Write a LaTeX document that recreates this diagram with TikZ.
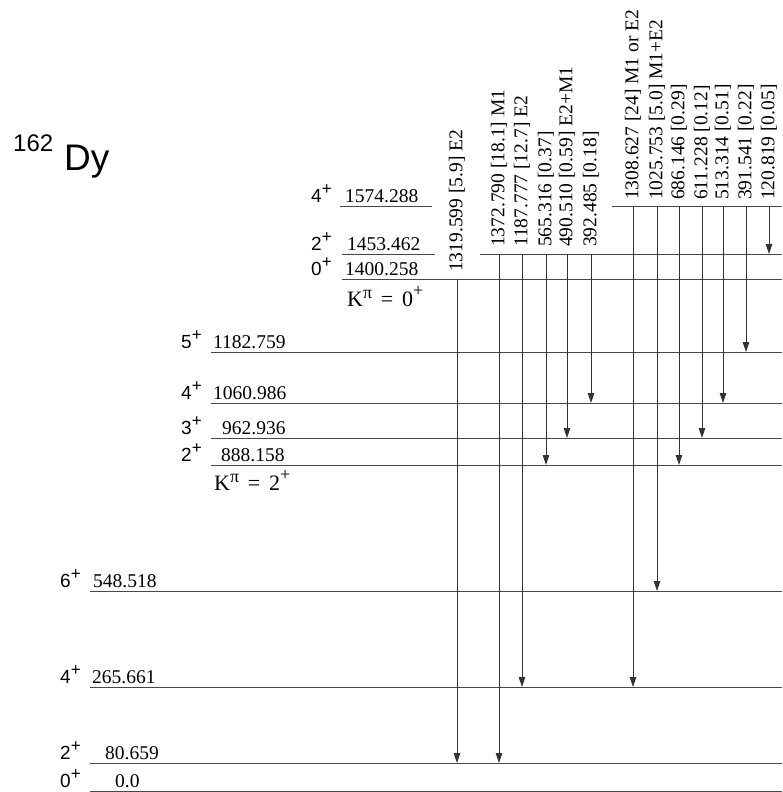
\documentclass[tikz,border=0pt]{standalone}
\usepackage{fontspec}
\setmainfont{Liberation Serif}
\newfontfamily\hsans{Liberation Sans}
\newfontfamily\tser{Liberation Serif}
\usetikzlibrary{arrows.meta}
\newcommand{\spinsup}{\raisebox{0.40em}{\fontsize{17}{17}\selectfont +}}
\begin{document}
\begin{tikzpicture}[x=1pt,y=-1pt,
  lvl/.style={draw=black!72, line width=0.9pt},
  gam/.style={draw=black!80, line width=0.9pt, -{Triangle[width=6.5pt,length=10pt]}},
  glab/.style={rotate=90, anchor=west, inner sep=0pt, font=\tser\fontsize{19.5}{20}\selectfont},
  val/.style={anchor=base west, inner sep=0pt, font=\tser\fontsize{19.5}{20}\selectfont},
  spin/.style={anchor=base west, inner sep=0pt, font=\hsans\fontsize{19}{19}\selectfont},
  kpi/.style={anchor=base west, inner sep=0pt, font=\tser\fontsize{22}{22}\selectfont}]
\useasboundingbox (0,0) rectangle (782,792);

% nucleus label
\node[anchor=base west, inner sep=0pt, font=\hsans\fontsize{24}{24}\selectfont] (mass) at (13,151) {162};
\node[anchor=base west, inner sep=0pt, font=\hsans\fontsize{37}{37}\selectfont] (elem) at (64,170) {Dy};

% levels: name / left x / right x / y / spin x / spin / value x / value
\foreach \n/\xa/\xb/\y/\sx/\s/\vx/\v in {
  l0/90/782/791/60/0/115/0.0,
  l80/90/782/763/60/2/105/80.659,
  l265/90/782/687/60/4/92/265.661,
  l548/90/782/591/60/6/93/548.518,
  l888/211/782/465/181/2/221/888.158,
  l962/211/782/438/181/3/222/962.936,
  l1060/211/782/403/181/4/213/1060.986,
  l1182/211/782/352/181/5/213/1182.759,
  l1400/342/782/279/311/0/345/1400.258,
  l1453/342/435/254/311/2/347/1453.462,
  l1574/340/432/206/311/4/345/1574.288}{
  \coordinate (\n-L) at (\xa,\y);
  \coordinate (\n-R) at (\xb,\y);
  \draw[lvl] (\n-L) -- (\n-R);
  \node[spin] (\n-spin) at (\sx,\y-4) {\s\spinsup};
  \node[val] (\n-val) at (\vx,\y-3.5) {\v};
}
% right-hand parts of the split levels
\coordinate (l1453b-L) at (480,254);
\coordinate (l1453b-R) at (782,254);
\draw[lvl] (l1453b-L) -- (l1453b-R);
\coordinate (l1574b-L) at (612,206);
\coordinate (l1574b-R) at (782,206);
\draw[lvl] (l1574b-L) -- (l1574b-R);

% band labels
\node[kpi] (k0) at (347,306) {K\raisebox{0.36em}{\fontsize{18}{18}\selectfont π}\hspace{0.4em}=\hspace{0.4em}0\raisebox{0.42em}{\fontsize{18}{18}\selectfont +}};
\node[kpi] (k2) at (214,490) {K\raisebox{0.36em}{\fontsize{18}{18}\selectfont π}\hspace{0.4em}=\hspace{0.4em}2\raisebox{0.42em}{\fontsize{18}{18}\selectfont +}};

% transitions: name / x / start y / end y / label bottom / label
\foreach \n/\x/\ys/\ye/\lb/\t in {
  g1/457/279/763/272/{1319.599 [5.9] E2},
  g2/499/254/763/247/{1372.790 [18.1] M1},
  g3/522/254/687/247/{1187.777 [12.7] E2},
  g4/546/254/465/247/{565.316 [0.37]},
  g5/567/254/438/247/{490.510 [0.59] E2+M1},
  g6/591/254/403/247/{392.485 [0.18]},
  g7/633/206/687/200/{1308.627 [24] M1 or E2},
  g8/657/206/591/200/{1025.753 [5.0] M1+E2},
  g9/679/206/465/200/{686.146 [0.29]},
  g10/702/206/438/200/{611.228 [0.12]},
  g11/723/206/403/200/{513.314 [0.51]},
  g12/746/206/352/200/{391.541 [0.22]},
  g13/769/206/254/200/{120.819 [0.05]}}{
  \coordinate (\n-s) at (\x,\ys);
  \coordinate (\n-e) at (\x,\ye);
  \draw[gam] (\n-s) -- (\n-e);
  \node[glab] (\n-lab) at (\x,\lb) {\t};
}
\end{tikzpicture}
\end{document}
